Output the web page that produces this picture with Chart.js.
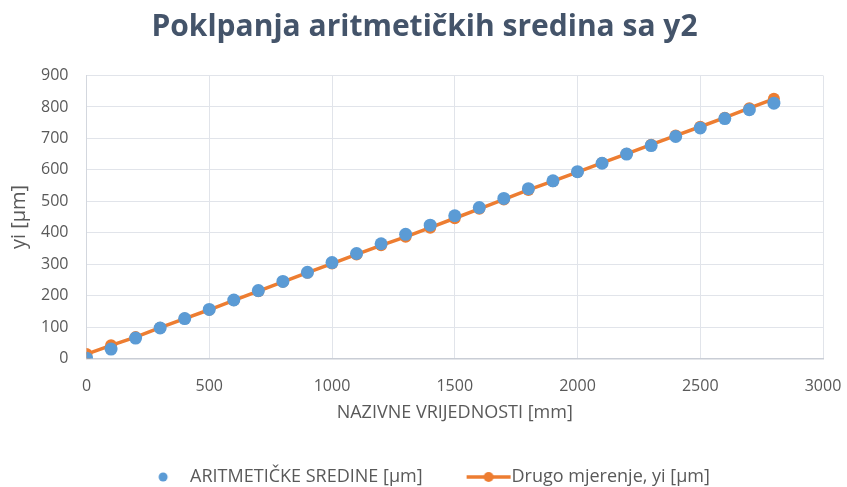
<!DOCTYPE html>
<html>
<head>
<meta charset="utf-8">
<script src="https://cdn.jsdelivr.net/npm/chart.js@4.4.1/dist/chart.umd.min.js"></script>
<style>
  html, body { margin: 0; padding: 0; background: #ffffff; }
  #wrap { width: 847px; height: 487px; }
</style>
</head>
<body>
<div id="wrap"><canvas id="chart" width="847" height="487"></canvas></div>
<script>
// Nominal values [mm]
const nominal = [0, 100, 200, 300, 400, 500, 600, 700, 800, 900, 1000, 1100, 1200, 1300, 1400,
                 1500, 1600, 1700, 1800, 1900, 2000, 2100, 2200, 2300, 2400, 2500, 2600, 2700, 2800];
// Arithmetic means [µm]
const meanValues = [1, 30, 65, 97, 127, 156, 186, 216, 245, 274, 305, 334, 365, 395, 424,
                    454, 480, 509, 540, 565, 594, 621, 650, 677, 706, 733, 763, 791, 812];
// Second measurement, yi [µm]
const secondMeasurement = [14, 42, 68, 98, 127, 155, 185, 214, 244, 273, 302, 331, 360, 387, 416,
                           446, 476, 506, 536, 564, 593, 622, 651, 680, 709, 737, 766, 796, 826];
// Axis ticks
const xTickValues = [0, 500, 1000, 1500, 2000, 2500, 3000];
const yTickValues = [0, 100, 200, 300, 400, 500, 600, 700, 800, 900];

const BLUE = '#5B9BD5';
const ORANGE = '#ED7D31';
const TEXT = '#595959';
const GRID = '#e1e4ea';
const FONT = "'Open Sans', 'Liberation Sans', sans-serif";

// Legend symbols (drawn centred on the legend box)
function blueDot() {
  const c = document.createElement('canvas');
  c.width = 60; c.height = 16;
  const g = c.getContext('2d');
  g.fillStyle = BLUE;
  g.beginPath(); g.arc(33, 8, 4.5, 0, Math.PI * 2); g.fill();
  return c;
}
function orangeLineDot() {
  const c = document.createElement('canvas');
  c.width = 60; c.height = 16;
  const g = c.getContext('2d');
  g.strokeStyle = ORANGE; g.lineWidth = 3.5;
  g.beginPath(); g.moveTo(15, 8); g.lineTo(59, 8); g.stroke();
  g.fillStyle = ORANGE;
  g.beginPath(); g.arc(37, 8, 5, 0, Math.PI * 2); g.fill();
  return c;
}
const legendSymbols = [blueDot(), orangeLineDot()];

const toPoints = (xs, ys) => xs.map((x, i) => ({ x: x, y: ys[i] }));

new Chart(document.getElementById('chart'), {
  type: 'scatter',
  data: {
    datasets: [
      {
        label: 'ARITMETIČKE SREDINE [µm]',
        data: toPoints(nominal, meanValues),
        showLine: false,
        backgroundColor: BLUE,
        borderColor: BLUE,
        pointRadius: 6.5,
        pointBorderWidth: 0
      },
      {
        label: 'Drugo mjerenje, yi [µm]',
        data: toPoints(nominal, secondMeasurement),
        showLine: true,
        borderColor: ORANGE,
        backgroundColor: ORANGE,
        borderWidth: 3.5,
        pointRadius: 6,
        pointBorderWidth: 0
      }
    ]
  },
  options: {
    responsive: false,
    animation: false,
    devicePixelRatio: 1,
    layout: { padding: { left: 26, right: 24, top: 0, bottom: -9 } },
    plugins: {
      tooltip: { enabled: false },
      title: {
        display: true,
        text: 'Poklpanja aritmetičkih sredina sa y2',
        color: '#44546A',
        font: { family: FONT, size: 30, weight: 'bold' },
        padding: { top: 9, bottom: 30.5 }
      },
      legend: {
        position: 'bottom',
        labels: {
          color: TEXT,
          font: { family: FONT, size: 18 },
          usePointStyle: true,
          pointStyleWidth: 42,
          padding: 38,
          generateLabels(chart) {
            const items = Chart.defaults.plugins.legend.labels.generateLabels(chart);
            items.forEach((it, i) => { it.pointStyle = legendSymbols[i]; });
            return items;
          }
        }
      }
    },
    scales: {
      x: {
        type: 'linear',
        min: 0, max: 3000,
        afterBuildTicks(scale) { scale.ticks = xTickValues.map(v => ({ value: v })); },
        afterFit(scale) {
          scale.height = 71.5;
          scale.paddingLeft = 0;
          scale.paddingRight = 0;
        },
        ticks: {
          color: TEXT, font: { family: FONT, size: 16 }, padding: 18.5, maxRotation: 0,
          callback: v => String(v)
        },
        grid: { color: GRID, lineWidth: 1, drawTicks: false },
        border: { color: '#c9cdd5', width: 1.5 },
        title: {
          display: true,
          text: 'NAZIVNE VRIJEDNOSTI [mm]',
          color: TEXT,
          font: { family: FONT, size: 18 },
          padding: { top: 0, bottom: 6 }
        }
      },
      y: {
        type: 'linear',
        min: 0, max: 900,
        afterBuildTicks(scale) { scale.ticks = yTickValues.map(v => ({ value: v })); },
        afterFit(scale) { scale.width = 60.5; },
        ticks: { color: TEXT, font: { family: FONT, size: 16 }, padding: 18 },
        grid: { color: GRID, lineWidth: 1, drawTicks: false },
        border: { color: '#d3d7de', width: 1 },
        title: {
          display: true,
          text: 'yi [µm]',
          color: TEXT,
          font: { family: FONT, size: 20 },
          padding: { top: -19, bottom: 0 }
        }
      }
    }
  }
});
</script>
</body>
</html>
